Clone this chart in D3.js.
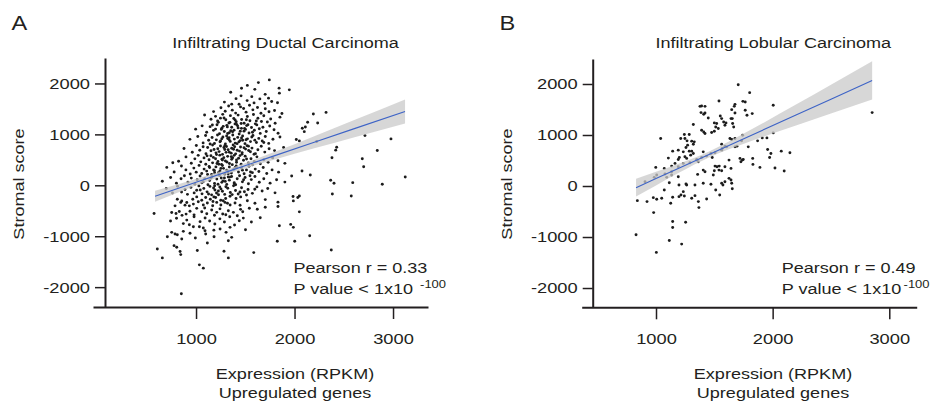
<!DOCTYPE html>
<html>
<head>
<meta charset="utf-8">
<script src="https://cdn.jsdelivr.net/npm/d3@7"></script>
<style>
  html, body { margin: 0; padding: 0; background: #fff; }
  svg { display: block; font-family: "Liberation Sans", Arial, Helvetica, sans-serif; }
</style>
</head>
<body>
<svg id="chart" width="931" height="403"></svg>
<script>
// ---------- data ----------
const yTicks = [-2000, -1000, 0, 1000, 2000];
const xTicks = [1000, 2000, 3000];

// Infiltrating ductal carcinoma: expression (RPKM) vs stromal score
const idcExpression = [
  1521, 1633, 1744,
  1352, 1843, 1947, 1846, 1597, 1702, 1462,
  1288, 1406, 1457, 1519, 1566, 1589, 1648, 1697, 1768, 1827, 1362, 1736,
  1178, 1253, 1331, 1368, 1402, 1437, 1483, 1508, 1543, 1577, 1624, 1659, 1703, 1741, 1797, 1872, 2320, 2191, 1296, 1452,
  1087, 1152, 1198, 1226, 1271, 1302, 1334, 1349, 1383, 1408, 1427, 1463, 1488, 1521, 1547, 1583, 1602, 1628, 1664, 1688,
  1724, 1758, 1803, 1852, 2133, 2235, 1248, 1396, 1511, 1612,
  996, 1062, 1108, 1143, 1177, 1213, 1238, 1262, 1287, 1313, 1338, 1362, 1386, 1412, 1438, 1461, 1487, 1514, 1538, 1563,
  1592, 1617, 1652, 1679, 1713, 1748, 1792, 1833, 2110, 2079, 2099, 1198, 1276, 1352, 1427, 1502, 1573, 1642, 1321, 1449,
  938, 1018, 1072, 1097, 1128, 1163, 1187, 1218, 1249, 1273, 1298, 1322, 1347, 1373, 1398, 1423, 1448, 1473, 1497, 1522,
  1553, 1578, 1613, 1637, 1672, 1703, 1738, 1781, 1852, 2049, 2018, 2225, 2715, 2979, 1143, 1206, 1262, 1311, 1337, 1389,
  1436, 1462, 1508, 1566, 1597, 1688,
  878, 962, 1003, 1038, 1072, 1101, 1118, 1152, 1168, 1203, 1221, 1248, 1269, 1292, 1309, 1338, 1362, 1377, 1402, 1418,
  1452, 1468, 1503, 1518, 1552, 1568, 1603, 1628, 1662, 1698, 1742, 1797, 1889, 2428, 2418, 2840, 1183, 1234, 1283, 1326,
  1357, 1392, 1441, 1487, 1534, 1589,
  764, 823, 898, 952, 988, 1022, 1048, 1081, 1099, 1132, 1151, 1168, 1198, 1222, 1241, 1259, 1282, 1298, 1321, 1339,
  1362, 1388, 1411, 1432, 1458, 1482, 1499, 1532, 1558, 1591, 1618, 1653, 1688, 1732, 1778, 1832, 1902, 2380, 2688, 1112,
  1176, 1213, 1268, 1314, 1372, 1447, 1513, 1574,
  703, 778, 852, 897, 941, 978, 1002, 1031, 1058, 1082, 1108, 1133, 1158, 1179, 1202, 1228, 1252, 1268, 1291, 1312,
  1338, 1359, 1382, 1408, 1431, 1462, 1488, 1512, 1538, 1572, 1601, 1638, 1682, 1718, 1772, 1838, 2076, 2702, 1971, 1117,
  1189, 1243, 1327, 1398, 1471, 1553,
  658, 742, 801, 848, 882, 918, 952, 988, 1012, 1041, 1058, 1088, 1121, 1138, 1162, 1188, 1211, 1238, 1262, 1288,
  1312, 1338, 1361, 1388, 1418, 1442, 1471, 1498, 1532, 1561, 1598, 1642, 1688, 1752, 1818, 1902, 2160, 2367, 2401, 2591,
  2891, 3124, 1073, 1152, 1223, 1274, 1327, 1402, 1483, 1548,
  698, 761, 812, 853, 888, 913, 948, 981, 1007, 1029, 1061, 1079, 1112, 1141, 1158, 1192, 1208, 1241, 1268, 1291,
  1322, 1348, 1381, 1401, 1428, 1462, 1491, 1528, 1572, 1618, 1671, 1728, 1802, 1043, 1127, 1178, 1227, 1303, 1367, 1446,
  1512, 1596, 1189, 1253,
  810, 855, 906, 967, 1007, 1058, 1098, 1145, 1199, 1251, 1301, 1345, 1406, 1453, 787, 845, 888, 932, 973, 1023,
  1074, 1115, 1169, 1210, 1252, 1294, 1346, 1396, 1447, 1521, 1598, 1703, 2049, 2033, 1985, 1988, 2384, 2576, 1832, 1172,
  574, 753, 797, 830, 858, 899, 939, 980, 1007, 1058, 1109, 1159, 1210, 1271, 1328, 1379, 1419, 1474, 1541, 1622,
  1703, 2049, 1832, 1088, 1187, 1243, 1302, 1452,
  741, 802, 871, 906, 932, 980, 1041, 1092, 1138, 1191, 1242, 1288, 1342, 1391, 1439, 1480, 1562, 1652, 1846, 1961,
  753, 787, 810, 871, 939, 973, 1034, 1074, 1091, 1098, 1244, 1305, 1345, 1181, 1988, 2154, 1502,
  709, 607, 777, 804, 838, 855, 993, 1115, 1183, 1284, 1362, 1328, 1013, 1825, 2002, 2373, 1586,
  658, 845, 1034, 1074, 1328, 851,
  1166, 1219, 1257, 1284, 1318, 1344, 1371, 1397, 1422, 1458, 1493, 1527, 1243, 1292, 1336, 1381, 1417, 1474, 1532, 1208,
  1263, 1305, 1358, 1411, 1467, 1138, 1187, 1231, 1279, 1323, 1368, 1413, 1256, 1297, 1342, 1388, 1181, 1228, 1276, 1319
];
const idcScore = [
  1962, 2017, 2070,
  1828, 1908, 1875, 1810, 1884, 1786, 1905,
  1634, 1702, 1757, 1663, 1741, 1618, 1697, 1607, 1645, 1622, 1594, 1712,
  1447, 1523, 1558, 1476, 1418, 1592, 1509, 1437, 1571, 1482, 1528, 1416, 1502, 1443, 1468, 1409, 1432, 1400, 1455, 1540,
  1382, 1297, 1354, 1238, 1393, 1286, 1223, 1368, 1311, 1247, 1379, 1293, 1218, 1352, 1268, 1391, 1207, 1318, 1254, 1366,
  1243, 1302, 1219, 1338, 1237, 1224, 1319, 1206, 1287, 1262,
  1103, 1168, 1042, 1152, 1079, 1188, 1011, 1122, 1058, 1177, 1032, 1141, 1083, 1193, 1008, 1118, 1063, 1172, 1027, 1134,
  1081, 1186, 1019, 1139, 1057, 1166, 1092, 1023, 1146, 1120, 1054, 1104, 1158, 1072, 1127, 1098, 1043, 1112, 1016, 1061,
  902, 958, 833, 977, 884, 938, 822, 987, 871, 948, 812, 918, 862, 988, 829, 941, 878, 969, 818, 912,
  858, 979, 841, 921, 869, 958, 823, 903, 948, 872, 898, 859, 976, 911, 812, 893, 913, 967, 893, 907,
  853, 928, 896, 948, 887, 841,
  722, 648, 783, 688, 758, 621, 742, 679, 792, 637, 718, 772, 608, 702, 763, 651, 728, 793, 618, 687,
  752, 642, 711, 779, 658, 731, 622, 699, 768, 652, 718, 681, 742, 748, 690, 683, 703, 662, 742, 698,
  631, 757, 672, 738, 684, 611,
  443, 472, 558, 432, 519, 588, 461, 538, 412, 502, 579, 441, 521, 468, 592, 408, 543, 478, 569, 428,
  511, 588, 452, 532, 413, 492, 572, 438, 521, 468, 559, 423, 502, 451, 538, 482, 431, 540, 521, 578,
  548, 428, 497, 457, 542, 583, 517, 402,
  352, 262, 378, 302, 221, 338, 258, 391, 232, 318, 279, 368, 212, 302, 361, 248, 332, 389, 219, 298,
  358, 242, 312, 381, 262, 338, 228, 302, 372, 248, 318, 272, 351, 233, 302, 258, 280, 365, 182, 213,
  241, 282, 227, 353, 298, 261,
  81, 152, 42, 128, 188, 62, 141, 22, 108, 182, 48, 131, 12, 92, 168, 38, 122, 191, 58, 142,
  18, 101, 172, 52, 128, 189, 68, 152, 31, 112, 172, 61, 128, 42, 108, 63, 201, 98, 39, 52,
  20, 162, 71, 141, 21, 87, 162, 12, 108, 187,
  -62, -152, -18, -131, -82, -178, -41, -149, -98, -12, -168, -61, -129, -22, -188, -91, -151, -32, -118, -179,
  -58, -141, -11, -102, -172, -49, -128, -81, -158, -31, -112, -62, -148, -92, -171, -52, -112, -28, -183, -131,
  -191, -77, -8, -71,
  -273, -306, -338, -273, -228, -293, -241, -273, -241, -293, -260, -215, -260, -228, -404, -336, -390, -404, -369, -323,
  -388, -349, -401, -336, -388, -336, -388, -349, -391, -302, -352, -281, -209, -240, -221, -306, -170, -209, -331, -318,
  -553, -533, -553, -514, -590, -566, -511, -580, -453, -519, -560, -484, -531, -564, -500, -531, -597, -519, -452, -471,
  -432, -521, -416, -447, -589, -462, -577, -472,
  -702, -648, -752, -683, -775, -619, -714, -641, -702, -761, -659, -722, -618, -781, -695, -644, -721, -638, -795, -768,
  -924, -957, -971, -904, -943, -814, -814, -840, -892, -957, -859, -924, -826, -881, -826, -990, -872,
  -1010, -1250, -1185, -1217, -1300, -1055, -1035, -1133, -1010, -1295, -1022, -1088, -1280, -1100, -1100, -1270, -1322,
  -1426, -1361, -1562, -1627, -1426, -2129,
  1183, 1262, 1098, 1321, 1147, 1236, 1052, 1283, 1168, 1214, 1117, 1189, 853, 777, 936, 709, 818, 884, 769, 603,
  512, 647, 563, 498, 612, 348, 287, 412, 333, 268, 406, 347, 143, 77, 161, 28, -228, -187, -302, -352
];
// linear fit and its 95% confidence band
const idcFitX = [584, 1000, 1350, 1800, 2200, 2600, 3122];
const idcFitY = [-215, 58, 288, 583, 846, 1108, 1451];
const idcBandLow = [-324, -6, 243, 509, 727, 939, 1216];
const idcBandHigh = [-106, 122, 333, 657, 965, 1277, 1686];

// Infiltrating lobular carcinoma
const ilcExpression = [
  1705, 1803, 1745, 1765, 1677, 1671, 1540, 1377, 1391, 1420,
  1386, 1420, 1409, 1765, 1780, 1825, 1649, 1677, 1448, 1551,
  1563, 1500, 1520, 1580, 1600, 1591, 1643, 1654, 1320, 1512,
  1534, 1657, 1666, 1477, 1500, 1391, 1409, 1420, 1243, 1285,
  1212, 1248, 1266, 1306, 1328, 1320, 1040, 1271, 1257, 1634,
  1649, 1677, 1743, 1734, 1791, 1563, 1591, 1568, 1677, 1694,
  1191, 1143, 1234, 1285, 1306, 1320, 1297, 1106, 1200, 1191,
  1248, 1263, 1349, 1391, 1482, 1405, 1720, 1740, 1728, 1748,
  1829, 1831, 1626, 1591, 1643, 1506, 1523, 1542, 1500, 1540,
  1563, 998, 1071, 1134, 1163, 1405, 1420, 1357, 1491, 1626,
  1643, 1563, 1574, 1134, 1191, 1197, 1263, 1334, 1405,
  1114, 1257, 1471, 1591, 1649, 1654, 1071, 1234, 1214, 1243,
  1197, 1143, 1334, 1306, 1363, 1368, 1434, 1512, 1546, 840,
  923, 977, 1006, 1049, 1126, 980, 1143, 1143, 1254, 829,
  1114, 1220, 1003,
  2005, 2853, 1871, 1911, 1951, 2005, 1957, 1985, 1974, 2074, 2148, 1891, 2020, 2099,
  906, 985, 1006, 1077, 1092, 1134, 1191, 1234, 1291, 1349, 1362, 1434, 1471, 1506, 1563, 1606
];
const ilcScore = [
  1986, 1830, 1660, 1647, 1601, 1562, 1666, 1562, 1569, 1562,
  1439, 1432, 1406, 1484, 1387, 1420, 1497, 1432, 1334, 1373,
  1322, 1237, 1224, 1256, 1237, 1191, 1322, 1322, 1205, 1158,
  1127, 1224, 1158, 1049, 1074, 1094, 1060, 1029, 1009, 1009,
  932, 932, 885, 879, 866, 820, 932, 801, 756, 932,
  912, 932, 996, 885, 768, 820, 781, 736, 768, 781,
  703, 683, 670, 683, 683, 638, 605, 547, 560, 521,
  573, 541, 508, 560, 560, 670, 541, 508, 475, 521,
  541, 424, 508, 377, 345, 390, 377, 390, 299, 312,
  299, 365, 345, 390, 443, 312, 280, 228, 215, 150,
  117, 53, 20, 215, 182, 20, 20, 20, 53,
  65, 39, 33, 84, 53, -53, -78, -111, -176, -195,
  -209, -221, -189, -240, -306, -423, -254, -78, -176, -287,
  -306, -228, -260, -240, -338, -521, -697, -814, -710, -957,
  -1068, -1139, -1302,
  1582, 1439, 885, 943, 943, 1041, 716, 638, 560, 683, 651, 365, 352, 293,
  84, 170, 215, 234, 170, 280, 377, 443, 455, 521, 475, 586, 638, 651, 703, 768
];
const ilcFitX = [829, 1000, 1200, 1450, 1800, 2200, 2500, 2853];
const ilcFitY = [-33, 145, 352, 612, 976, 1391, 1703, 2070];
const ilcBandLow = [-207, 12, 263, 552, 866, 1185, 1420, 1696];
const ilcBandHigh = [141, 278, 441, 672, 1086, 1597, 1986, 2444];

// ---------- drawing ----------
const svg = d3.select("#chart");
const INK = "#231f20";
const STRETCH = 1.18;     // the typeface runs wide; stretch Liberation Sans horizontally
const FONT = 15.3;

function addText(parent, str, x, y, opts = {}) {
  const t = parent.append("text")
    .attr("transform", `translate(${x},${y}) rotate(${opts.rotate || 0}) scale(${STRETCH},1)`)
    .attr("text-anchor", opts.anchor || "start")
    .attr("font-size", opts.size || FONT)
    .attr("fill", INK)
    .text(str);
  return t;
}

const panels = [
  {
    letter: "A", letterX: 11.5,
    title: "Infiltrating Ductal Carcinoma", titleX: 285.5,
    xs: idcExpression, ys: idcScore,
    fitX: idcFitX, fitY: idcFitY, lo: idcBandLow, hi: idcBandHigh,
    xRange: [93, 428], xDomain: [-46, 3355], yAxisX: 105,
    yRange: [307, 58], yDomain: [-2390, 2500],
    yTitleX: 23.5, xTitleX: 295,
    r: "0.33", statX: 293.5, supGap: 6
  },
  {
    letter: "B", letterX: 499.5,
    title: "Infiltrating Lobular Carcinoma", titleX: 773.3,
    xs: ilcExpression, ys: ilcScore,
    fitX: ilcFitX, fitY: ilcFitY, lo: ilcBandLow, hi: ilcBandHigh,
    xRange: [581.7, 916.7], xDomain: [363, 3235], yAxisX: 592.7,
    yRange: [307.3, 59], yDomain: [-2378, 2490],
    yTitleX: 511.5, xTitleX: 773,
    r: "0.49", statX: 781.7, supGap: 2
  }
];

panels.forEach(p => {
  if (p.xs.length !== p.ys.length) throw new Error("point arrays differ in length");
  const x = d3.scaleLinear().domain(p.xDomain).range(p.xRange);
  const y = d3.scaleLinear().domain(p.yDomain).range(p.yRange);
  const g = svg.append("g");

  // panel letter and title
  addText(g, p.letter, p.letterX, 30, { size: 20 });
  addText(g, p.title, p.titleX, 48, { anchor: "middle" });

  // points
  const pts = d3.range(p.xs.length).map(i => ({ x: p.xs[i], y: p.ys[i] }));
  g.append("g").selectAll("circle").data(pts).join("circle")
    .attr("cx", d => x(d.x))
    .attr("cy", d => y(d.y))
    .attr("r", 1.45)
    .attr("fill", "#1c1c1c");

  // confidence band over the points, then the fitted line
  const band = p.fitX.map((v, i) => ({ x: v, lo: p.lo[i], hi: p.hi[i] }));
  g.append("path").datum(band)
    .attr("d", d3.area().x(d => x(d.x)).y0(d => y(d.lo)).y1(d => y(d.hi)).curve(d3.curveMonotoneX))
    .attr("fill", "#c9c9c9")
    .attr("fill-opacity", 0.75);
  const fit = p.fitX.map((v, i) => ({ x: v, y: p.fitY[i] }));
  g.append("path").datum(fit)
    .attr("d", d3.line().x(d => x(d.x)).y(d => y(d.y)))
    .attr("fill", "none")
    .attr("stroke", "#3d63c6")
    .attr("stroke-width", 1.1);

  // y axis
  const ya = g.append("g").attr("transform", `translate(${p.yAxisX},0)`)
    .call(d3.axisLeft(y).tickValues(yTicks).tickSize(10).tickSizeOuter(0).tickPadding(5)
      .tickFormat(d => String(d)));
  // x axis
  const xa = g.append("g").attr("transform", `translate(0,${p.yRange[0]})`)
    .call(d3.axisBottom(x).tickValues(xTicks).tickSize(12).tickSizeOuter(0).tickPadding(14)
      .tickFormat(d => String(d)));

  [ya, xa].forEach(a => {
    a.attr("font-family", null);
    a.select(".domain").attr("stroke", INK).attr("stroke-width", 2);
    a.selectAll(".tick line").attr("stroke", INK).attr("stroke-width", 1.5);
    a.selectAll(".tick text")
      .attr("fill", INK)
      .attr("font-size", 15.5);
  });
  ya.selectAll(".tick text").each(function () {
    const t = d3.select(this);
    const tx = +t.attr("x");
    t.attr("x", 0).attr("transform", `translate(${tx},0) scale(${STRETCH},1)`);
  });
  xa.selectAll(".tick text").attr("transform", `scale(${STRETCH},1)`);

  // axis titles
  addText(g, "Stromal score", p.yTitleX, 184, { anchor: "middle", rotate: -90 });
  addText(g, "Expression (RPKM)", p.xTitleX, 379, { anchor: "middle" });
  addText(g, "Upregulated genes", p.xTitleX, 397.5, { anchor: "middle" });

  // correlation statistics
  addText(g, `Pearson r = ${p.r}`, p.statX, 273);
  const pv = addText(g, "P value < 1x10", p.statX, 294);
  pv.append("tspan").attr("dx", p.supGap).attr("dy", -6.5).attr("font-size", 11).text("-100");
});
</script>
</body>
</html>
